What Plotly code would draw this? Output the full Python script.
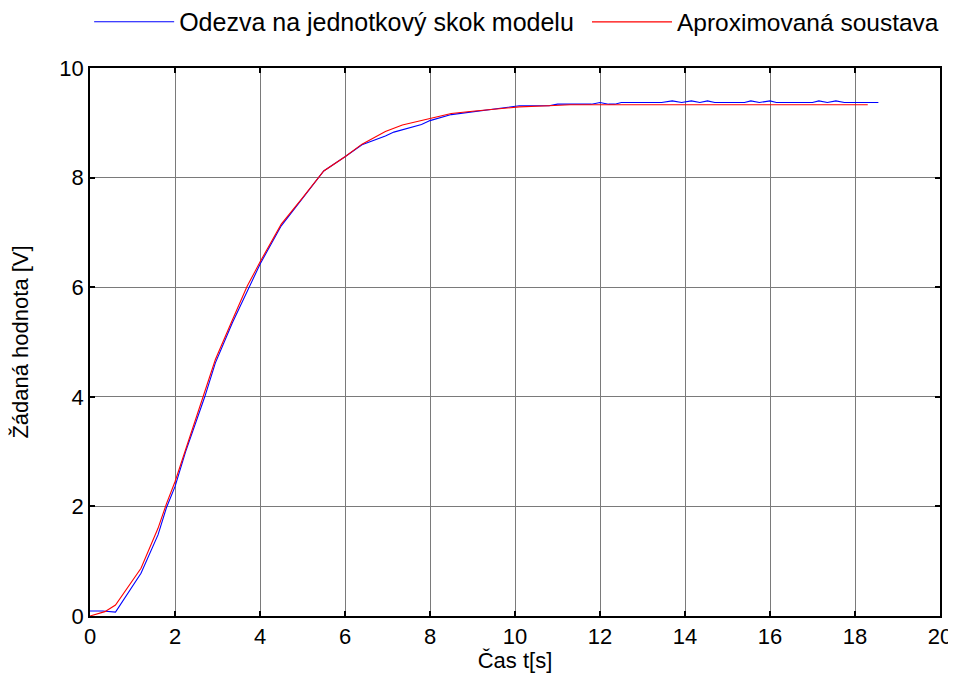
import plotly.graph_objects as go

# model step response (blue)
t_model = [0, 0.3, 0.6, 1.2, 1.6, 1.8, 2.0, 2.25, 2.7, 2.95, 3.35, 3.75, 4.0, 4.5, 5.0,
           5.5, 6.0, 6.4, 6.95, 7.15, 7.8, 8.0, 8.5, 9.0, 9.5, 10.1, 10.8, 11.0, 11.3,
           11.8, 12.0, 12.2, 12.35, 12.5, 13.45, 13.7, 13.92, 14.15, 14.35, 14.53, 14.7,
           15.4, 15.55, 15.75, 16.0, 16.15, 17.0, 17.15, 17.35, 17.55, 17.75, 18.55]
y_model = [0.09, 0.09, 0.07, 0.78, 1.48, 1.98, 2.36, 3.0, 4.0, 4.62, 5.35, 6.0, 6.42, 7.12, 7.62,
           8.12, 8.38, 8.6, 8.76, 8.83, 8.97, 9.04, 9.15, 9.2, 9.24, 9.31, 9.31, 9.34, 9.34,
           9.34, 9.37, 9.34, 9.34, 9.37, 9.37, 9.40, 9.37, 9.40, 9.37, 9.40, 9.37,
           9.37, 9.40, 9.37, 9.40, 9.37, 9.37, 9.40, 9.37, 9.40, 9.37, 9.37]

# approximated system (red)
t_approx = [0, 0.35, 0.6, 1.2, 1.6, 1.8, 2.0, 2.3, 2.7, 2.95, 3.35, 3.7, 4.0, 4.5, 5.0,
            5.5, 6.0, 6.4, 6.95, 7.35, 8.0, 8.5, 9.0, 9.5, 10.1, 10.8, 11.3, 18.3]
y_approx = [0.0, 0.08, 0.2, 0.87, 1.6, 2.05, 2.45, 3.15, 4.08, 4.68, 5.4, 6.02, 6.46, 7.15, 7.63,
            8.12, 8.38, 8.61, 8.84, 8.96, 9.08, 9.17, 9.21, 9.25, 9.29, 9.31, 9.33, 9.33]

x_ticks = [0, 2, 4, 6, 8, 10, 12, 14, 16, 18, 20]
y_ticks = [0, 2, 4, 6, 8, 10]

FONT = "Liberation Sans, Arial, sans-serif"

fig = go.Figure()
fig.add_trace(go.Scatter(x=t_model, y=y_model, mode="lines", name="Odezva na jednotkový skok modelu",
                         line=dict(color="#0000ff", width=1.1), legend="legend"))
fig.add_trace(go.Scatter(x=t_approx, y=y_approx, mode="lines", name="Aproximovaná soustava",
                         line=dict(color="#ff0000", width=1.1), legend="legend2"))

axis_common = dict(
    showline=True, linecolor="black", linewidth=1.5, mirror="ticks",
    ticks="inside", ticklen=5, tickcolor="black", tickwidth=1.5,
    showgrid=True, gridcolor="#7a7a7a", gridwidth=1,
    zeroline=False, automargin=False,
    tickfont=dict(size=22, color="black", family=FONT),
)

legend_common = dict(orientation="h", y=1.084, xanchor="left", yanchor="middle",
                     bgcolor="rgba(0,0,0,0)", itemwidth=80)

# page body adds an 8px offset; keep the figure small enough to avoid scrollbars
fig.update_layout(
    width=948, height=665,
    margin=dict(l=82, r=16, t=60, b=57, autoexpand=False),
    paper_bgcolor="white", plot_bgcolor="white",
    font=dict(family=FONT, color="black", size=22),
    xaxis=dict(range=[0, 20], tickvals=x_ticks, title=dict(text="Čas t[s]", standoff=4,
               font=dict(size=22)), **axis_common),
    yaxis=dict(range=[0, 10], tickvals=y_ticks, title=dict(text="Žádaná hodnota [V]", standoff=30,
               font=dict(size=22)), **axis_common),
    legend=dict(x=-0.001, font=dict(size=25, family=FONT), **legend_common),
    legend2=dict(x=0.5847, font=dict(size=24.5, family=FONT), **legend_common),
    showlegend=True,
)

fig.write_html("out.html")
